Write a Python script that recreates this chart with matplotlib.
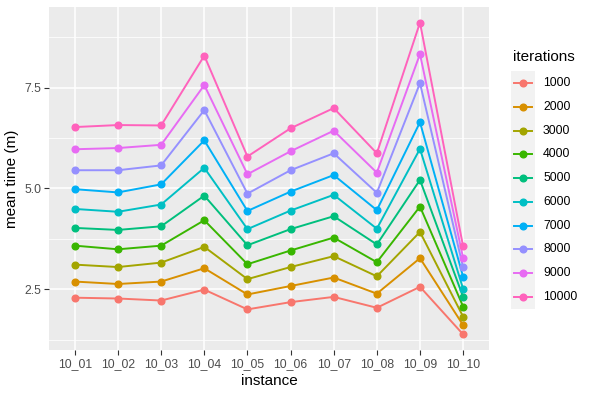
import matplotlib
matplotlib.use("Agg")
import matplotlib.pyplot as plt
from matplotlib.lines import Line2D
from matplotlib.patches import Rectangle

plt.rcParams["font.family"] = ["Liberation Sans", "DejaVu Sans"]

instances = ["10_01", "10_02", "10_03", "10_04", "10_05", "10_06", "10_07", "10_08", "10_09", "10_10"]
iterations = ["1000", "2000", "3000", "4000", "5000", "6000", "7000", "8000", "9000", "10000"]
colors = ["#F8766D", "#D89000", "#A3A500", "#39B600", "#00BF7D",
          "#00BFC4", "#00B0F6", "#9590FF", "#E76BF3", "#FF62BC"]

t1000 = [2.29, 2.27, 2.22, 2.49, 2.00, 2.18, 2.31, 2.04, 2.56, 1.38]
t2000 = [2.69, 2.63, 2.69, 3.02, 2.37, 2.58, 2.79, 2.39, 3.27, 1.61]
t3000 = [3.11, 3.05, 3.16, 3.55, 2.75, 3.05, 3.32, 2.82, 3.92, 1.82]
t4000 = [3.58, 3.49, 3.58, 4.21, 3.12, 3.46, 3.78, 3.17, 4.55, 2.07]
t5000 = [4.02, 3.97, 4.06, 4.82, 3.59, 3.99, 4.31, 3.61, 5.21, 2.31]
t6000 = [4.49, 4.42, 4.60, 5.51, 3.99, 4.45, 4.84, 4.00, 5.98, 2.51]
t7000 = [4.98, 4.90, 5.10, 6.19, 4.44, 4.92, 5.33, 4.46, 6.64, 2.81]
t8000 = [5.45, 5.45, 5.57, 6.94, 4.87, 5.45, 5.87, 4.89, 7.61, 3.04]
t9000 = [5.97, 6.00, 6.08, 7.56, 5.35, 5.92, 6.43, 5.39, 8.33, 3.27]
t10000 = [6.52, 6.57, 6.56, 8.29, 5.79, 6.49, 6.99, 5.87, 9.11, 3.56]
series = [t1000, t2000, t3000, t4000, t5000, t6000, t7000, t8000, t9000, t10000]

W, H = 592, 395
fig = plt.figure(figsize=(W / 100, H / 100), dpi=100)
pl, pr, pt, pb = 49, 489, 7, 350
ax = fig.add_axes([pl / W, 1 - pb / H, (pr - pl) / W, (pb - pt) / H])
ax.set_facecolor("#EBEBEB")
for s in ax.spines.values():
    s.set_visible(False)

x = list(range(1, len(instances) + 1))
for vals, c in zip(series, colors):
    ax.plot(x, vals, color=c, lw=1.4, marker="o", ms=4.8, mec=c, mfc=c, zorder=3)

allv = [v for s in series for v in s]
lo, hi = min(allv), max(allv)
pad = (hi - lo) * 0.05
ax.set_ylim(lo - pad, hi + pad)
ax.set_xlim(0.4, len(instances) + 0.6)

ax.set_xticks(x)
ax.set_xticklabels(instances)
ax.set_yticks([2.5, 5.0, 7.5])
ax.set_yticklabels(["2.5", "5.0", "7.5"])
ax.set_yticks([1.25, 3.75, 6.25, 8.75], minor=True)
ax.grid(which="major", color="white", lw=1.1, zorder=0)
ax.grid(which="minor", axis="y", color="white", lw=0.55, zorder=0)
ax.tick_params(which="minor", length=0)
ax.tick_params(which="major", length=3.5, width=0.8, color="#333333",
               labelcolor="#4D4D4D", labelsize=8.8, pad=2)
ax.set_axisbelow(True)

ax.set_xlabel("instance", fontsize=11, color="black", labelpad=3)
ax.set_ylabel("mean time (m)", fontsize=11, color="black", labelpad=4)

# legend (manual, ggplot-like)
fig.text(513 / W, 1 - 57 / H, "iterations", fontsize=11, ha="left", va="center")
fig.add_artist(Rectangle((511 / W, 1 - 309 / H), 24 / W, 238 / H,
                         transform=fig.transFigure, facecolor="#F2F2F2",
                         edgecolor="none"))
y0, dy = 83.3, 23.7
for i, (lab, c) in enumerate(zip(iterations, colors)):
    yy = 1 - (y0 + i * dy) / H
    fig.add_artist(Line2D([514 / W, 532 / W], [yy, yy], transform=fig.transFigure,
                          color=c, lw=1.4))
    fig.add_artist(Line2D([523 / W], [yy], transform=fig.transFigure,
                          color=c, marker="o", ms=4.8, lw=0))
    fig.text(543 / W, yy, lab, fontsize=8.8, ha="left", va="center", color="black")

fig.savefig("out.png", dpi=100, facecolor="white")
